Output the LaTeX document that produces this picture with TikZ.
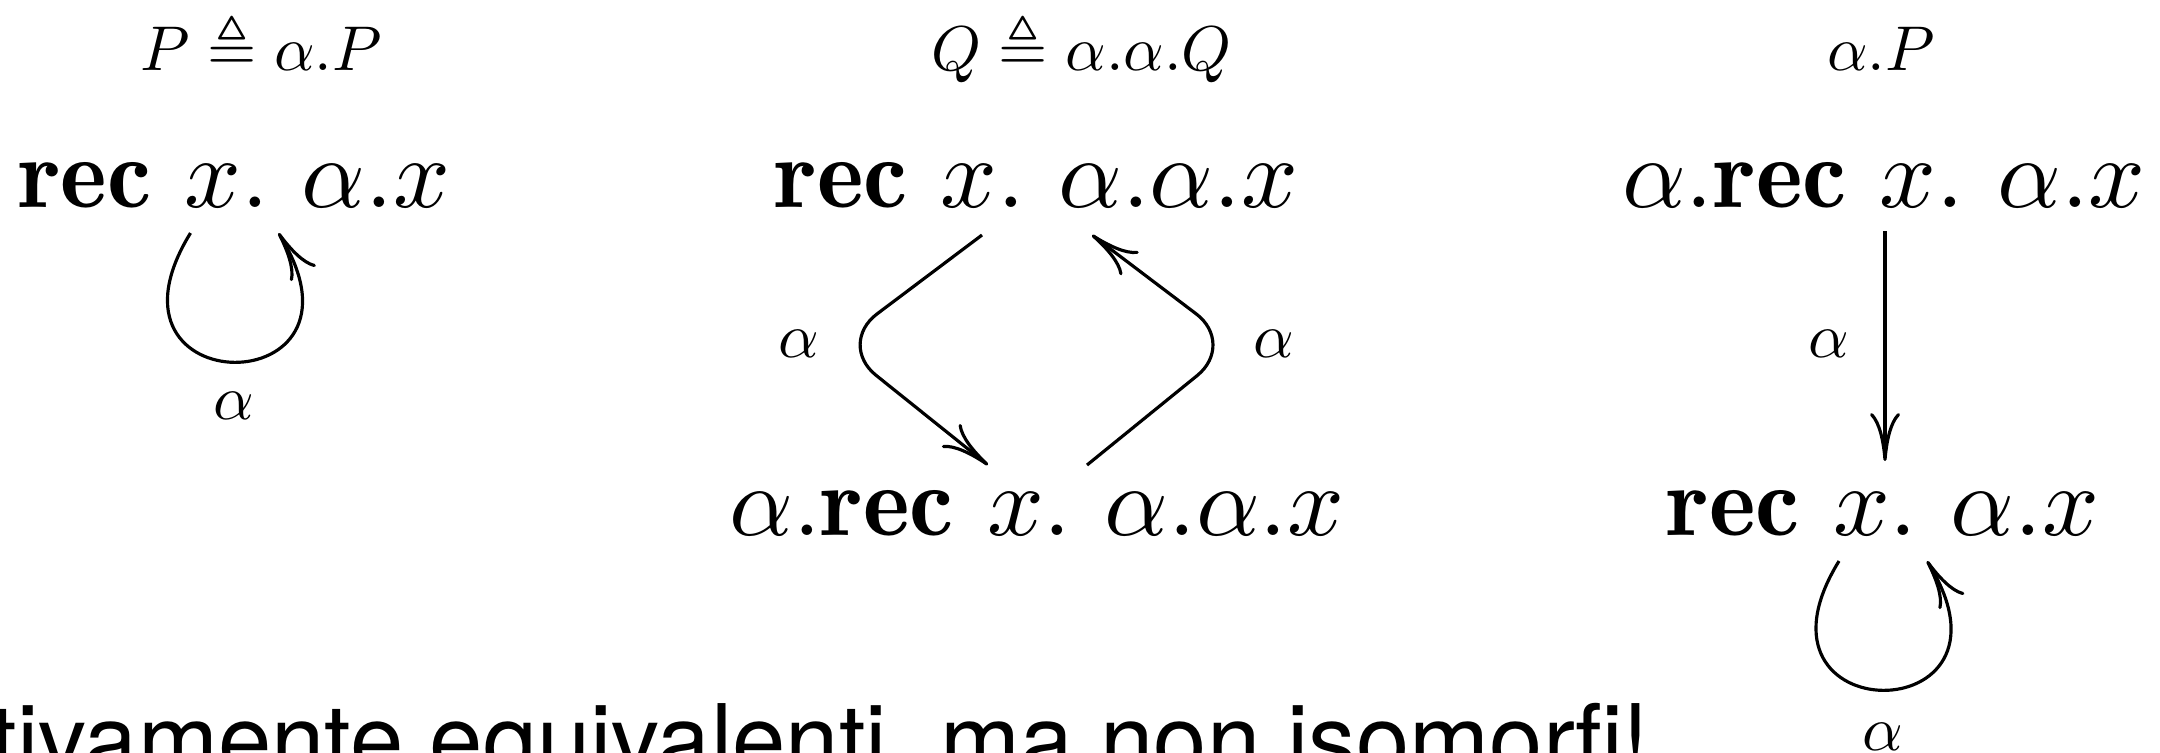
\documentclass[tikz,border=0pt]{standalone}
\usepackage{amssymb}
\usepackage{fontspec}
\newfontfamily\helv{TeX Gyre Heros}
\usetikzlibrary{arrows.meta,calc}
\tikzset{
  proc/.style={font=\fontsize{10}{12}\selectfont, anchor=base, inner sep=0pt, scale=2.83, transform shape},
  lbl/.style={font=\fontsize{10}{12}\selectfont, anchor=base, inner sep=0pt, scale=1.8, transform shape},
  act/.style={font=\fontsize{10}{12}\selectfont, inner sep=0pt, scale=1.8, transform shape},
  arr/.style={-{Computer Modern Rightarrow[length=4.8mm,width=3mm]}, line width=0.9pt},
  note/.style={font=\helv\fontsize{27.3}{32}\selectfont, anchor=base west, inner sep=0pt}
}
\begin{document}
\begin{tikzpicture}
\useasboundingbox (0,-7.52) rectangle (21.6,0);
\clip (0,-7.52) rectangle (21.6,0);
% left
\node[lbl] (lblP) at (2.61,-0.70) {$P \triangleq \alpha.P$};
\node[proc] (L1) at (2.345,-2.07) {$\mathbf{rec}\ x.\ \alpha.x$};
\node[act] (aL) at (2.34,-4.06) {$\alpha$};
\draw[arr] ([xshift=-0.44cm,yshift=-0.26cm]L1.base) .. controls +(-1.06,-1.72) and +(1.06,-1.72) .. ([xshift=0.44cm,yshift=-0.26cm]L1.base);
% middle
\node[lbl] (lblQ) at (10.815,-0.70) {$Q \triangleq \alpha.\alpha.Q$};
\node[proc] (M1) at (10.365,-2.07) {$\mathbf{rec}\ x.\ \alpha.\alpha.x$};
\node[proc] (M2) at (10.37,-5.35) {$\alpha.\mathbf{rec}\ x.\ \alpha.\alpha.x$};
\coordinate (cl) at (8.37,-3.44);
\coordinate (cr) at (12.36,-3.44);
\node[act] (aML) at (7.99,-3.44) {$\alpha$};
\node[act] (aMR) at (12.74,-3.44) {$\alpha$};
\draw[arr, rounded corners=0.5cm] ([xshift=-0.545cm,yshift=-0.28cm]M1.base) -- (cl) -- ([xshift=-0.49cm,yshift=0.70cm]M2.base);
\draw[arr, rounded corners=0.5cm] ([xshift=0.50cm,yshift=0.70cm]M2.base) -- (cr) -- ([xshift=0.555cm,yshift=-0.28cm]M1.base);
% right
\node[lbl] (lblA) at (18.81,-0.70) {$\alpha.P$};
\node[proc] (R1) at (18.84,-2.07) {$\alpha.\mathbf{rec}\ x.\ \alpha.x$};
\node[proc] (R2) at (18.83,-5.35) {$\mathbf{rec}\ x.\ \alpha.x$};
\node[act] (aR) at (18.29,-3.44) {$\alpha$};
\node[act] (aR2) at (18.83,-7.37) {$\alpha$};
\draw[arr] ($(R1.base)+(0.01,-0.24)$) -- ($(R1.base |- R2.base)+(0.01,0.74)$);
\draw[arr] ([xshift=-0.44cm,yshift=-0.26cm]R2.base) .. controls +(-1.06,-1.72) and +(1.06,-1.72) .. ([xshift=0.44cm,yshift=-0.26cm]R2.base);
% bottom text
\node[note] (txt) at (-0.10,-7.73) {tivamente equivalenti, ma non isomorfi!};
\end{tikzpicture}
\end{document}
